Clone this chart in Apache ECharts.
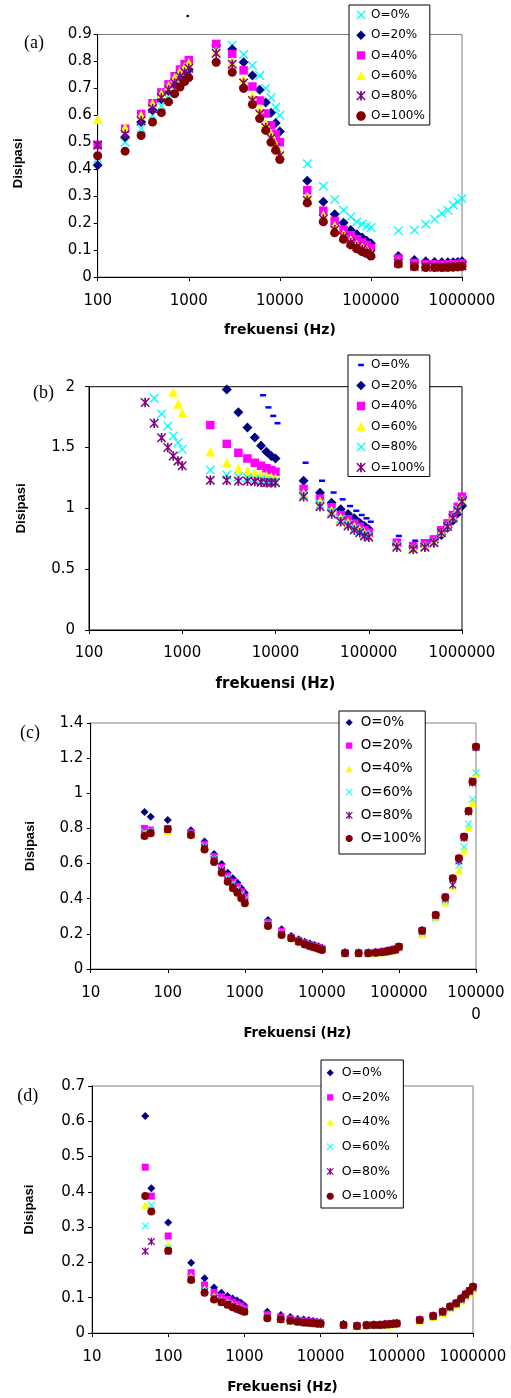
<!DOCTYPE html>
<html><head><meta charset="utf-8">
<script src="https://cdn.jsdelivr.net/npm/echarts@6/dist/echarts.min.js"></script>
<style>html,body{margin:0;padding:0;background:#fff}#c{width:511px;height:1398px}</style>
</head><body><div id="c"></div>
<script>
// ---------------- DATA ----------------
const seriesNames = ['O=0%','O=20%','O=40%','O=60%','O=80%','O=100%'];

const freqAB = [100,200,300,400,500,600,700,800,900,1000,2000,3000,4000,5000,6000,7000,8000,9000,10000,
  20000,30000,40000,50000,60000,70000,80000,90000,100000,200000,300000,400000,500000,600000,700000,800000,900000,1000000];
const freqCD = [50,60,100,200,300,400,500,600,700,800,900,1000,2000,3000,4000,5000,6000,7000,8000,9000,10000,
  20000,30000,40000,50000,60000,70000,80000,90000,100000,200000,300000,400000,500000,600000,700000,800000,900000,1000000];

// panel (a)
const a_O0   = [0.44,0.50,0.55,0.60,0.635,0.665,0.695,0.715,0.735,0.75, 0.865,0.86,0.826,0.785,0.748,0.70,0.665,0.63,0.60, 0.42,0.337,0.288,0.248,0.223,0.205,0.196,0.189,0.184, 0.172,0.174,0.196,0.214,0.236,0.248,0.267,0.279,0.291];
const a_O20  = [0.415,0.52,0.575,0.62,0.66,0.69,0.715,0.74,0.755,0.77, 0.86,0.845,0.797,0.748,0.695,0.648,0.61,0.572,0.54, 0.357,0.279,0.233,0.201,0.174,0.159,0.147,0.135,0.125, 0.078,0.063,0.058,0.056,0.055,0.055,0.055,0.056,0.058];
const a_O40  = [0.49,0.55,0.605,0.645,0.685,0.715,0.745,0.77,0.79,0.805, 0.865,0.828,0.767,0.707,0.655,0.607,0.563,0.53,0.50, 0.322,0.246,0.208,0.176,0.155,0.14,0.128,0.118,0.108, 0.068,0.052,0.048,0.047,0.046,0.046,0.047,0.048,0.05];
const a_O60  = [0.585,0.555,0.60,0.645,0.68,0.71,0.74,0.765,0.78,0.795, 0.838,0.80,0.737,0.674,0.625,0.57,0.533,0.495,0.464, 0.30,0.23,0.19,0.16,0.138,0.122,0.11,0.102,0.095, 0.058,0.045,0.042,0.041,0.041,0.041,0.042,0.043,0.045];
const a_O80  = [0.49,0.53,0.58,0.625,0.665,0.695,0.72,0.745,0.76,0.775, 0.83,0.79,0.72,0.655,0.605,0.555,0.515,0.48,0.45, 0.285,0.215,0.175,0.148,0.127,0.112,0.101,0.093,0.086, 0.052,0.04,0.037,0.036,0.036,0.037,0.038,0.039,0.041];
const a_O100 = [0.45,0.467,0.525,0.575,0.61,0.65,0.68,0.705,0.725,0.74, 0.797,0.76,0.70,0.64,0.588,0.544,0.50,0.47,0.436, 0.275,0.205,0.164,0.14,0.119,0.105,0.094,0.087,0.078, 0.048,0.038,0.035,0.035,0.035,0.036,0.037,0.038,0.04];

// panel (b)
const b_O0   = [null,null,null,null,null,null,null,null,null,null, null,null,null,null,null,1.93,1.83,1.76,1.70, 1.375,1.227,1.13,1.074,1.019,0.98,0.945,0.918,0.89, 0.773,0.734,0.73,0.75,0.82,0.875,0.94,1.01,1.09];
const b_O20  = [null,null,null,null,null,null,null,null,null,null, null,1.978,1.79,1.665,1.582,1.515,1.466,1.43,1.41, 1.227,1.129,1.047,0.992,0.953,0.918,0.882,0.855,0.828, 0.70,0.68,0.69,0.72,0.78,0.84,0.9,0.96,1.02];
const b_O40  = [null,null,null,null,null,null,null,null,null,null, 1.685,1.53,1.457,1.41,1.375,1.35,1.33,1.315,1.30, 1.16,1.08,1.009,0.945,0.91,0.875,0.848,0.82,0.80, 0.718,0.69,0.713,0.745,0.82,0.877,0.945,1.013,1.096];
const b_O60  = [null,null,null,null,null,null,null,1.954,1.858,1.786, 1.466,1.375,1.33,1.31,1.293,1.28,1.27,1.26,1.25, 1.125,1.06,0.985,0.925,0.885,0.85,0.825,0.80,0.785, 0.70,0.675,0.695,0.73,0.805,0.86,0.93,0.995,1.07];
const b_O80  = [null,null,null,null,1.905,1.775,1.677,1.595,1.54,1.485, 1.315,1.274,1.26,1.25,1.24,1.235,1.23,1.225,1.22, 1.11,1.035,0.97,0.91,0.87,0.835,0.81,0.785,0.77, 0.69,0.668,0.685,0.722,0.80,0.855,0.925,0.99,1.06];
const b_O100 = [null,null,null,1.87,1.70,1.58,1.50,1.43,1.39,1.35, 1.23,1.23,1.225,1.225,1.22,1.215,1.21,1.21,1.21, 1.096,1.014,0.953,0.89,0.855,0.822,0.80,0.773,0.762, 0.68,0.663,0.68,0.718,0.80,0.85,0.92,0.98,1.055];

// panel (c)
const c_O0   = [0.894,0.867,0.848,0.79,0.725,0.655,0.598,0.548,0.516,0.491,0.459,0.434, 0.279,0.226,0.188,0.17,0.155,0.145,0.137,0.13,0.123, 0.097,0.095,0.096,0.098,0.101,0.106,0.111,0.117,0.13, 0.222,0.31,0.41,0.515,0.63,0.75,0.895,1.065,1.262];
const c_O20  = [0.80,0.791,0.80,0.775,0.71,0.64,0.58,0.53,0.495,0.47,0.44,0.41, 0.265,0.215,0.18,0.163,0.148,0.138,0.13,0.123,0.117, 0.093,0.092,0.093,0.095,0.098,0.103,0.108,0.114,0.128, 0.22,0.308,0.41,0.515,0.63,0.755,0.9,1.07,1.265];
const c_O40  = [0.77,0.78,0.785,0.765,0.695,0.625,0.565,0.515,0.48,0.45,0.42,0.39, 0.255,0.205,0.175,0.157,0.143,0.133,0.125,0.118,0.112, 0.088,0.088,0.089,0.091,0.094,0.098,0.103,0.109,0.12, 0.198,0.29,0.38,0.47,0.56,0.675,0.805,0.945,1.11];
const c_O60  = [0.78,0.785,0.79,0.768,0.70,0.63,0.57,0.52,0.485,0.455,0.425,0.395, 0.258,0.208,0.177,0.158,0.145,0.135,0.127,0.12,0.113, 0.09,0.089,0.09,0.092,0.095,0.099,0.104,0.11,0.122, 0.203,0.295,0.389,0.48,0.59,0.696,0.825,0.966,1.117];
const c_O80  = [0.76,0.775,0.795,0.765,0.69,0.62,0.56,0.505,0.47,0.44,0.41,0.38, 0.25,0.198,0.177,0.157,0.142,0.132,0.124,0.118,0.11, 0.089,0.089,0.09,0.092,0.095,0.1,0.105,0.11,0.125, 0.215,0.305,0.4,0.478,0.615,0.745,0.895,1.06,1.26];
const c_O100 = [0.757,0.772,0.795,0.763,0.68,0.609,0.548,0.497,0.459,0.434,0.402,0.374, 0.245,0.193,0.175,0.155,0.14,0.13,0.122,0.115,0.108, 0.089,0.089,0.09,0.092,0.095,0.1,0.105,0.11,0.127, 0.218,0.307,0.408,0.516,0.63,0.753,0.899,1.066,1.265];

// panel (d)
const d_O0   = [0.615,0.41,0.313,0.199,0.155,0.129,0.114,0.105,0.098,0.092,0.086,0.078, 0.06,0.051,0.045,0.04,0.038,0.036,0.034,0.032,0.031, 0.026,0.022,0.024,0.025,0.025,0.026,0.027,0.028,0.029, 0.039,0.05,0.062,0.076,0.086,0.099,0.111,0.121,0.132];
const d_O20  = [0.47,0.388,0.275,0.171,0.136,0.115,0.103,0.095,0.088,0.082,0.077,0.07, 0.052,0.045,0.04,0.036,0.034,0.032,0.031,0.03,0.029, 0.024,0.021,0.023,0.024,0.024,0.025,0.026,0.027,0.028, 0.038,0.049,0.061,0.075,0.085,0.098,0.11,0.12,0.131];
const d_O40  = [0.363,0.35,0.249,0.16,0.125,0.105,0.093,0.086,0.079,0.074,0.069,0.063, 0.046,0.04,0.036,0.033,0.031,0.029,0.028,0.027,0.026, 0.022,0.019,0.021,0.022,0.022,0.023,0.024,0.025,0.026, 0.035,0.045,0.057,0.07,0.08,0.092,0.104,0.114,0.125];
const d_O60  = [0.303,0.363,0.24,0.155,0.12,0.1,0.09,0.083,0.077,0.072,0.067,0.062, 0.045,0.039,0.035,0.032,0.03,0.029,0.028,0.027,0.026, 0.022,0.019,0.021,0.022,0.022,0.023,0.024,0.025,0.026, 0.035,0.045,0.057,0.07,0.08,0.092,0.104,0.115,0.126];
const d_O80  = [0.232,0.259,0.232,0.152,0.117,0.098,0.088,0.081,0.075,0.07,0.065,0.06, 0.043,0.038,0.034,0.031,0.029,0.028,0.027,0.026,0.025, 0.022,0.019,0.021,0.022,0.022,0.023,0.024,0.025,0.026, 0.036,0.047,0.059,0.073,0.083,0.096,0.108,0.118,0.129];
const d_O100 = [0.388,0.344,0.233,0.15,0.114,0.095,0.087,0.08,0.073,0.068,0.064,0.06, 0.042,0.039,0.035,0.032,0.03,0.029,0.028,0.027,0.026, 0.023,0.02,0.022,0.023,0.023,0.024,0.025,0.026,0.027, 0.037,0.048,0.06,0.075,0.084,0.098,0.11,0.12,0.131];

// ---------------- STYLE / LAYOUT ----------------
const C = {cyan:'#00FFFF', navy:'#000080', magenta:'#FF00FF', yellow:'#FFFF00', purple:'#800080', darkred:'#800000', blue:'#0000FF'};

function xPoly(a){
  return [[0,a],[a,0],[5,5-a],[10-a,0],[10,a],[5+a,5],[10,10-a],[10-a,10],[5,5+a],[a,10],[0,10-a],[5-a,5]];
}
function shapePolys(shape){
  switch(shape){
    case 'diamond': return [[[5,0],[10,5],[5,10],[0,5]]];
    case 'square': return [[[0.6,0.6],[9.4,0.6],[9.4,9.4],[0.6,9.4]]];
    case 'triangle': return [[[5,0.3],[10,9.6],[0,9.6]]];
    case 'circle': { const p=[]; for(let i=0;i<32;i++){const t=i/32*2*Math.PI; p.push([5+5*Math.cos(t),5+5*Math.sin(t)]);} return [p]; }
    case 'cross': return [xPoly(1)];
    // asterisk: X plus a vertical bar, both wound the same way
    case 'star': return [xPoly(1.1), [[4.1,0],[5.9,0],[5.9,10],[4.1,10]]];
    case 'dash': return [[[2,3.8],[8,3.8],[8,6.2],[2,6.2]]];
  }
}
function toPath(polys, frac, anchor){
  const f = v => (+v).toFixed(2);
  let s = anchor ? 'M0,0 L0,0 Z M10,10 L10,10 Z ' : '';
  for (const poly of polys){
    s += poly.map((p,i)=>(i?'L':'M')+f(5+(p[0]-5)*frac)+','+f(5+(p[1]-5)*frac)).join(' ') + ' Z ';
  }
  return 'path://' + s.trim();
}
function seriesSymbol(shape){
  if (shape==='diamond') return 'diamond';
  if (shape==='square') return 'rect';
  if (shape==='triangle') return 'triangle';
  if (shape==='circle') return 'circle';
  if (shape==='dash') return 'rect';
  return toPath(shapePolys(shape), 1, false);
}
function pairs(xs, ys){
  const out=[];
  xs.forEach((x,i)=>{ if (ys[i]!==null && ys[i]!==undefined) out.push([x, ys[i]]); });
  return out;
}

const bigMk = {cross:9.5,diamond:10,square:8.5,triangle:9.5,star:9.5,circle:9,dash:[6,2.5]};
const smallMk = {cross:7.5,diamond:8,square:7,triangle:8,star:7.5,circle:8,dash:[5,2]};

const panels = [
  { id:'a', freq:freqAB, values:[a_O0,a_O20,a_O40,a_O60,a_O80,a_O100],
    shapes:['cross','diamond','square','triangle','star','circle'],
    colors:[C.cyan,C.navy,C.magenta,C.yellow,C.purple,C.darkred],
    grid:{left:97.7, top:34.5, width:364.3, height:242.5}, border:'#808080',
    xMin:100, yMax:0.9, yInt:0.1, yLabelMargin:6, xLabelMargin:17,
    xName:'frekuensi (Hz)', xNameGap:46, xNameFont:14, xNamePad:[0,0,0,0],
    yNameGap:72.7, yNamePad:[0,15,0,0],
    legend:{left:349, top:5, padding:[4,5,3,7], size:10, frac:0.95, gap:8.2, font:12},
    label:{text:'(a)', x:24, y:43.3}, mk:bigMk },
  { id:'b', freq:freqAB, values:[b_O0,b_O20,b_O40,b_O60,b_O80,b_O100],
    shapes:['dash','diamond','square','triangle','cross','star'],
    colors:[C.blue,C.navy,C.magenta,C.yellow,C.cyan,C.purple],
    grid:{left:89, top:386.7, width:373, height:243.3}, border:'#000',
    xMin:100, yMax:2, yInt:0.5, yLabelMargin:14, xLabelMargin:15.5,
    xName:'frekuensi (Hz)', xNameGap:46.5, xNameFont:15, xNamePad:[0,0,0,0],
    yNameGap:60.7, yNamePad:[0,0,0,0],
    legend:{left:348, top:355, padding:[4,5,3,8], size:10, frac:0.95, gap:8.5, font:12},
    label:{text:'(b)', x:33, y:393.3}, mk:bigMk },
  { id:'c', freq:freqCD, values:[c_O0,c_O20,c_O40,c_O60,c_O80,c_O100],
    shapes:['diamond','square','triangle','cross','star','circle'],
    colors:[C.navy,C.magenta,C.yellow,C.cyan,C.purple,C.darkred],
    grid:{left:90.7, top:723, width:385.3, height:246}, border:'#808080',
    xMin:10, yMax:1.4, yInt:0.2, yLabelMargin:7.4, xLabelMargin:13.5, xLabelLH:21.5,
    xName:'Frekuensi (Hz)', xNameGap:58, xNameFont:13.2, xNamePad:[0,0,0,28],
    yNameGap:54, yNamePad:[0,0,0,0],
    legend:{left:339, top:711, padding:[4.5,4,8.5,3.7], size:13, frac:0.55, gap:9.2, font:13.5},
    label:{text:'(c)', x:20, y:733.3}, mk:smallMk, wrapMillion:true },
  { id:'d', freq:freqCD, values:[d_O0,d_O20,d_O40,d_O60,d_O80,d_O100],
    shapes:['diamond','square','triangle','cross','star','circle'],
    colors:[C.navy,C.magenta,C.yellow,C.cyan,C.purple,C.darkred],
    grid:{left:92, top:1086, width:381, height:247}, border:'#808080',
    xMin:10, yMax:0.7, yInt:0.1, yLabelMargin:7, xLabelMargin:16.5,
    xName:'Frekuensi (Hz)', xNameGap:47, xNameFont:13.5, xNamePad:[0,0,0,0],
    yNameGap:56, yNamePad:[0,0,0,0],
    legend:{left:321, top:1060, padding:[6.2,5.6,5.3,2.7], size:13, frac:0.55, gap:11.7, font:12.5},
    label:{text:'(d)', x:17.3, y:1096.7}, mk:smallMk }
];

const grids=[], xAxes=[], yAxes=[], series=[], legends=[], graphics=[];
panels.forEach((p, i) => {
  grids.push(Object.assign({show:true, borderColor:p.border, borderWidth:1, backgroundColor:'transparent',
    containLabel:false, outerBoundsMode:'none'}, p.grid));
  xAxes.push({
    type:'log', logBase:10, gridIndex:i, min:p.xMin, max:1000000,
    axisLine:{show:true, onZero:false, lineStyle:{color:'#000', width:1}},
    axisTick:{show:true, length:4, lineStyle:{color:'#000'}},
    minorTick:{show:false}, splitLine:{show:false},
    axisLabel:{show:true, margin:p.xLabelMargin, color:'#000', fontFamily:'DejaVu Sans', fontSize:15,
      lineHeight: p.xLabelLH || undefined,
      formatter: v => { const r = Math.round(v); return (p.wrapMillion && r===1000000) ? '100000\n0' : String(r); }},
    name:p.xName, nameLocation:'middle', nameGap:p.xNameGap,
    nameTextStyle:{color:'#000', fontFamily:'DejaVu Sans', fontWeight:'bold', fontSize:p.xNameFont, padding:p.xNamePad}
  });
  yAxes.push({
    type:'value', gridIndex:i, min:0, max:p.yMax, interval:p.yInt,
    axisLine:{show:true, onZero:false, lineStyle:{color:'#000', width:1}},
    axisTick:{show:true, length:4, lineStyle:{color:'#000'}},
    splitLine:{show:false},
    axisLabel:{margin:p.yLabelMargin, color:'#000', fontFamily:'DejaVu Sans', fontSize:15},
    name:'Disipasi', nameLocation:'middle', nameGap:p.yNameGap,
    nameTextStyle:{color:'#000', fontFamily:'Liberation Sans', fontWeight:'bold', fontSize:13, padding:p.yNamePad}
  });
  const legendData = [];
  p.shapes.forEach((shape, j) => {
    const nm = p.id + '|' + seriesNames[j];
    const s = {
      type:'scatter', name:nm, xAxisIndex:i, yAxisIndex:i,
      data: pairs(p.freq, p.values[j]),
      symbol: seriesSymbol(shape), symbolSize: p.mk[shape],
      itemStyle:{color:p.colors[j], opacity:1},
      emphasis:{disabled:true}, silent:true, animation:false
    };
    if (shape==='dash') s.symbolOffset = [2,0];
    series.push(s);
    legendData.push({name:nm, icon: toPath(shapePolys(shape), p.legend.frac, true)});
  });
  legends.push({
    show:true, orient:'vertical', left:p.legend.left, top:p.legend.top, padding:p.legend.padding,
    itemWidth:p.legend.size, itemHeight:p.legend.size, itemGap:p.legend.gap,
    backgroundColor:'#fff', borderColor:'#000', borderWidth:1, borderRadius:0,
    selectedMode:false, data:legendData,
    formatter: n => n.split('|')[1],
    textStyle:{color:'#000', fontFamily:'DejaVu Sans', fontSize:p.legend.font}
  });
  graphics.push({type:'text', x:p.label.x, y:p.label.y,
    style:{text:p.label.text, fill:'#000', font:'18px "Liberation Serif"', verticalAlign:'middle'}});
});
graphics.push({type:'circle', shape:{cx:187.7, cy:16, r:1.3}, style:{fill:'#000'}});

const chart = echarts.init(document.getElementById('c'), null, {renderer:'canvas'});
chart.setOption({
  animation:false, backgroundColor:'#fff',
  grid:grids, xAxis:xAxes, yAxis:yAxes, series:series, legend:legends, graphic:graphics
});
</script>
</body></html>
